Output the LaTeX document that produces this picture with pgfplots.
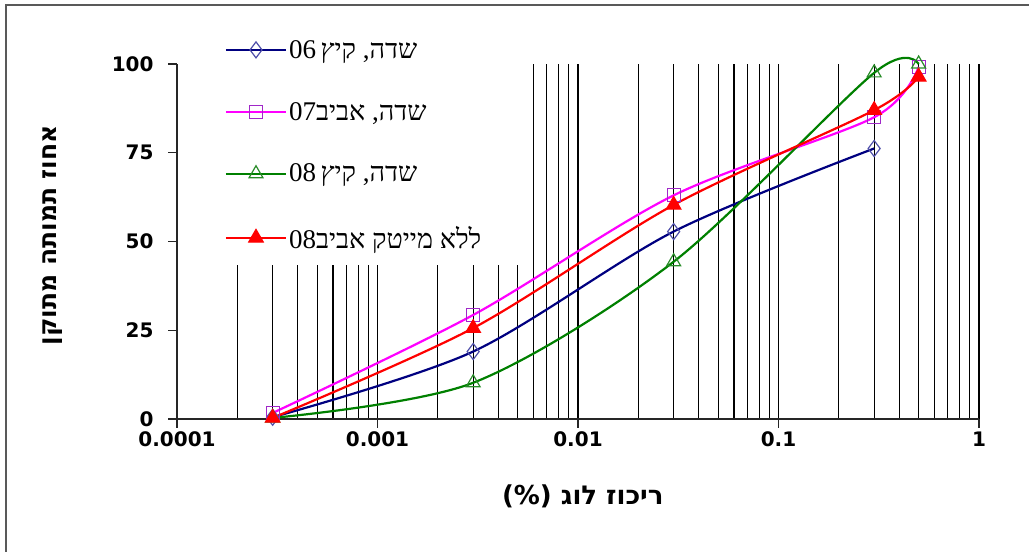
\documentclass[border=0pt]{standalone}
\usepackage{fontspec}
\usepackage{pgfplots}
\pgfplotsset{compat=1.18}
\TeXXeTstate=1
\setmainfont{DejaVu Sans}
\newfontfamily\hebsans[Script=Hebrew]{DejaVu Sans}
\newfontfamily\hebserif[Script=Hebrew]{Liberation Serif}
\newfontfamily\tickfont{DejaVu Sans}
\definecolor{sNavy}{RGB}{0,0,128}
\definecolor{sMag}{RGB}{255,0,255}
\definecolor{sGreen}{RGB}{0,128,0}
\definecolor{sRed}{RGB}{255,0,0}
\definecolor{mDia}{RGB}{80,80,170}
\definecolor{mSq}{RGB}{160,40,200}
\definecolor{mTri}{RGB}{40,140,40}
\newcommand{\legtxt}[1]{\makebox[226bp][l]{\rule[-6bp]{0pt}{21bp}\hebserif\fontsize{27bp}{30bp}\selectfont\beginR #1\endR}}
\begin{document}
\begin{tikzpicture}[x=1bp,y=1bp]
\useasboundingbox (0,0) rectangle (1029,552);
\draw[line width=2.5bp, black!65] (6,-3) -- (6,547) -- (1035,547);
\begin{axis}[
  at={(177bp,133bp)}, anchor=south west,
  scale only axis, width=802bp, height=355bp,
  xmode=log, xmin=1e-4, xmax=1, ymin=0, ymax=100,
  axis x line*=bottom, axis y line*=left,
  axis line style={line width=1.4bp, black!85},
  xtick={1e-4,1e-3,1e-2,1e-1,1},
  xticklabels={0.0001,0.001,0.01,0.1,1},
  minor xtick={2e-4,3e-4,4e-4,5e-4,6e-4,7e-4,8e-4,9e-4,
               2e-3,3e-3,4e-3,5e-3,6e-3,7e-3,8e-3,9e-3,
               2e-2,3e-2,4e-2,5e-2,6e-2,7e-2,8e-2,9e-2,
               0.2,0.3,0.4,0.5,0.6,0.7,0.8,0.9},
  ytick={0,25,50,75,100},
  xmajorgrids, xminorgrids,
  major grid style={black, line width=1.1bp},
  minor grid style={black, line width=1.1bp},
  tick align=outside, major tick length=9bp, minor tick length=0bp,
  tick style={line width=1.4bp, black!85},
  tick label style={font=\tickfont\bfseries\fontsize{20bp}{24bp}\selectfont},
  yticklabel style={xshift=-11bp},
  /pgf/number format/assume math mode=true,
  xlabel={\hebsans\bfseries\fontsize{26bp}{30bp}\selectfont (\%) \beginR ריכוז לוג\endR},
  ylabel={\hebsans\bfseries\fontsize{25bp}{30bp}\selectfont\beginR אחוז תמותה מתוקן\endR},
  xlabel style={at={(axis description cs:0.506,-0.217)}, anchor=center},
  ylabel style={at={(axis description cs:-0.155,0.518)}, anchor=center, rotate=0},
  legend style={at={(axis description cs:0.052,1.11)}, anchor=north west,
    fill=white, draw=none, inner xsep=6bp, inner ysep=13bp, row sep=38.5bp,
    cells={anchor=west, inner sep=2bp}},
  legend image code/.code={\draw[mark repeat=2,mark phase=2,#1] plot coordinates {(0bp,0bp)(30bp,0bp)(60bp,0bp)};},
  clip=false,
]
\addplot[color=sNavy, line width=2.2bp, smooth, mark=diamond,
  mark options={draw=mDia, line width=1.2bp, mark size=8bp, solid}]
  coordinates {(0.0003,0.5)(0.003,19)(0.03,52.8)(0.3,76.2)};
\addlegendentry{\legtxt{שדה, קיץ\,\beginL06\endL}}
\addplot[color=sMag, line width=2.2bp, smooth, mark=square,
  mark options={draw=mSq, line width=1.2bp, mark size=6.5bp, solid}]
  coordinates {(0.0003,1.7)(0.003,29.3)(0.03,63)(0.3,85)(0.5,99.2)};
\addlegendentry{\legtxt{שדה, אביב\beginL07\endL}}
\addplot[color=sGreen, line width=2.2bp, smooth, tension=0.5, mark=triangle,
  mark options={draw=mTri, line width=1.2bp, mark size=8bp, solid}]
  coordinates {(0.0003,0.3)(0.003,10.2)(0.03,44.3)(0.3,97.5)(0.5,100)};
\addlegendentry{\legtxt{שדה, קיץ\,\beginL08\endL}}
\addplot[color=sRed, line width=2.2bp, smooth, mark=triangle*,
  mark options={draw=sRed, fill=sRed, line width=1bp, mark size=8.5bp, solid}]
  coordinates {(0.0003,0.3)(0.003,25.6)(0.03,60.3)(0.3,87)(0.5,96.4)};
\addlegendentry{\legtxt{ללא מייטק אביב\beginL08\endL}}
\end{axis}
\end{tikzpicture}
\end{document}
